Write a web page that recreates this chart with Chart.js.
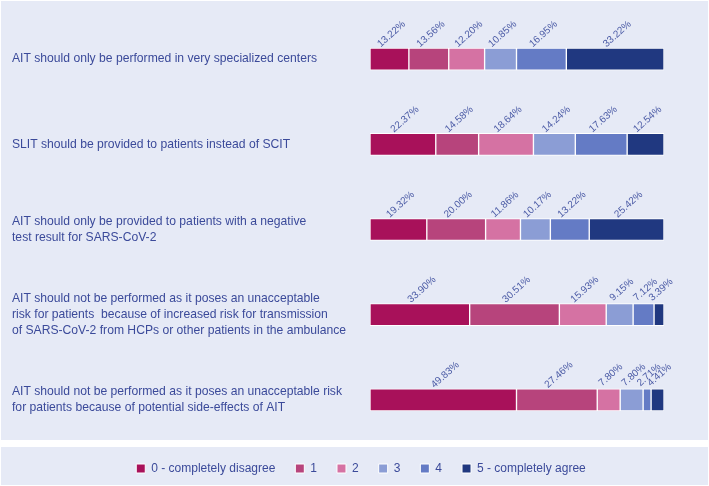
<!DOCTYPE html>
<html>
<head>
<meta charset="utf-8">
<script src="https://cdn.jsdelivr.net/npm/chart.js@4.4.1/dist/chart.umd.min.js"></script>
<style>
  html, body { margin: 0; padding: 0; background: #ffffff; }
  #wrap { width: 709px; height: 486px; }
</style>
</head>
<body>
<div id="wrap"><canvas id="likert-chart"></canvas></div>
<script>
// statements (y categories)
var statements = [
  "AIT should only be performed in very specialized centers",
  "SLIT should be provided to patients instead of SCIT",
  ["AIT should only be provided to patients with a negative", "test result for SARS-CoV-2"],
  ["AIT should not be performed as it poses an unacceptable",
   "risk for patients  because of increased risk for transmission",
   "of SARS-CoV-2 from HCPs or other patients in the ambulance"],
  ["AIT should not be performed as it poses an unacceptable risk",
   "for patients because of potential side-effects of AIT"]
];

// answer levels
var levels = ["0 - completely disagree", "1", "2", "3", "4", "5 - completely agree"];

// percentages per answer level, one value per statement
var level0 = [13.22, 22.37, 19.32, 33.90, 49.83];
var level1 = [13.56, 14.58, 20.00, 30.51, 27.46];
var level2 = [12.20, 18.64, 11.86, 15.93, 7.80];
var level3 = [10.85, 14.24, 10.17, 9.15, 7.80];
var level4 = [16.95, 17.63, 13.22, 7.12, 2.71];
var level5 = [33.22, 12.54, 25.42, 3.39, 4.41];

var levelColors = ["#a8115a", "#b7447c", "#d572a3", "#8b9dd5", "#647bc5", "#203880"];

var textColor = "#3b4a9a";
var panelColor = "#e6eaf6";

var seriesValues = [level0, level1, level2, level3, level4, level5];

// grey-blue panels behind the plot and the legend
var panels = {
  id: "panels",
  beforeDraw: function(chart) {
    var ctx = chart.ctx;
    ctx.save();
    ctx.fillStyle = "#ffffff";
    ctx.fillRect(0, 0, chart.width, chart.height);
    ctx.fillStyle = panelColor;
    ctx.fillRect(1, 1, chart.width - 2, 439);
    ctx.fillRect(1, 447, chart.width - 2, chart.height - 448);
    ctx.restore();
  }
};

// legend is centred on the whole page, not on the plot
var shiftLegend = {
  id: "shiftLegend",
  afterLayout: function(chart) {
    if (chart.legend) {
      chart.legend.left += 23;
      chart.legend.right += 23;
    }
  }
};

// rotated percentage labels above each segment
var pctLabels = {
  id: "pctLabels",
  afterDatasetsDraw: function(chart) {
    var ctx = chart.ctx;
    ctx.save();
    ctx.font = "10px 'Liberation Sans', Arial, sans-serif";
    ctx.fillStyle = "#4a5aa5";
    ctx.textAlign = "center";
    ctx.textBaseline = "middle";
    chart.data.datasets.forEach(function(ds, i) {
      var meta = chart.getDatasetMeta(i);
      meta.data.forEach(function(bar, j) {
        var cx = (bar.x + bar.base) / 2;
        var top = bar.y - bar.height / 2;
        ctx.save();
        ctx.translate(cx + 2, top - 14);
        ctx.rotate(-42 * Math.PI / 180);
        ctx.fillText(ds.data[j].toFixed(2) + "%", 0, 0);
        ctx.restore();
      });
    });
    ctx.restore();
  }
};

new Chart(document.getElementById("likert-chart"), {
  type: "bar",
  data: {
    labels: statements,
    datasets: seriesValues.map(function(vals, i) {
      return {
        label: levels[i],
        data: vals,
        backgroundColor: levelColors[i],
        borderColor: "#ffffff",
        borderWidth: 1,
        borderSkipped: false,
        barThickness: 22
      };
    })
  },
  options: {
    indexAxis: "y",
    responsive: true,
    maintainAspectRatio: false,
    animation: false,
    layout: {
      padding: { left: 12, right: 45, top: 16.5, bottom: 1.5 }
    },
    scales: {
      x: { stacked: true, min: 0, max: 100, display: false },
      y: {
        stacked: true,
        grid: { display: false },
        border: { display: false },
        ticks: {
          crossAlign: "far",
          color: textColor,
          font: { family: "'Liberation Sans', Arial, sans-serif", size: 12.15, lineHeight: 1.33 }
        },
        afterFit: function(scale) {
          scale.width = 358;
          scale.paddingTop = 0;
          scale.paddingBottom = 0;
        }
      }
    },
    plugins: {
      legend: {
        position: "bottom",
        labels: {
          boxWidth: 9,
          boxHeight: 9,
          padding: 20,
          color: textColor,
          font: { family: "'Liberation Sans', Arial, sans-serif", size: 12 }
        }
      },
      tooltip: { enabled: false }
    }
  },
  plugins: [panels, shiftLegend, pctLabels]
});
</script>
</body>
</html>
